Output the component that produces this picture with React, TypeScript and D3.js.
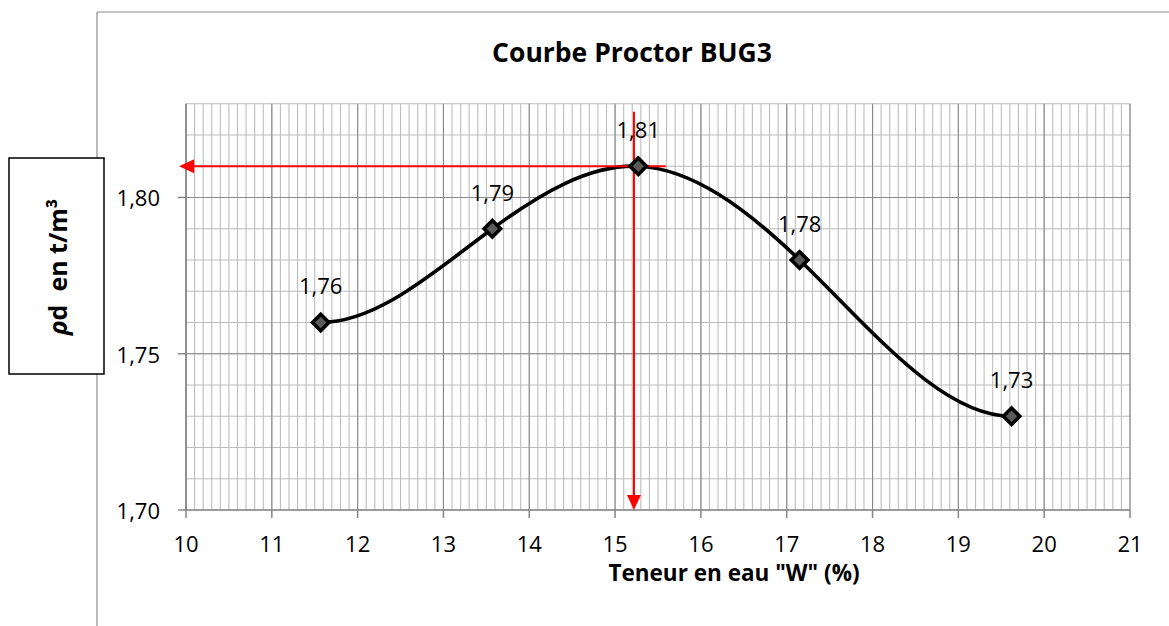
import { useMemo } from "react";
import * as d3 from "d3";

// Proctor test points
const waterContent = [11.57, 13.57, 15.27, 17.15, 19.62];
const dryDensity = [1.76, 1.79, 1.81, 1.78, 1.73];
const pointLabels = ["1,76", "1,79", "1,81", "1,78", "1,73"];

const xTicks = [10, 11, 12, 13, 14, 15, 16, 17, 18, 19, 20, 21];
const yTicks = [1.7, 1.75, 1.8];
const yTickLabels = ["1,70", "1,75", "1,80"];

// optimum read-off lines
const optimumW = [15.22];
const optimumRho = [1.81];
const hLineFrom = [15.59];
const vLineFrom = [1.8274];

const W = 1169;
const H = 626;
const FONT = "'Open Sans', 'Liberation Sans', sans-serif";

// cubic spline with flat ends, like the smoothed line in Excel
function curveClamped(context: any) {
  let pts: [number, number][] = [];
  return {
    areaStart() {},
    areaEnd() {},
    lineStart() {
      pts = [];
    },
    point(x: number, y: number) {
      pts.push([+x, +y]);
    },
    lineEnd() {
      const n = pts.length;
      if (n === 0) return;
      context.moveTo(pts[0][0], pts[0][1]);
      if (n === 1) return;
      const h: number[] = [];
      const s: number[] = [];
      for (let i = 0; i < n - 1; i++) {
        h.push(pts[i + 1][0] - pts[i][0]);
        s.push((pts[i + 1][1] - pts[i][1]) / h[i]);
      }
      const m = new Array(n).fill(0);
      const k = n - 2;
      if (k > 0) {
        const a: number[] = [], b: number[] = [], c: number[] = [], r: number[] = [];
        for (let i = 1; i <= k; i++) {
          a.push(h[i]);
          b.push(2 * (h[i - 1] + h[i]));
          c.push(h[i - 1]);
          r.push(3 * (h[i] * s[i - 1] + h[i - 1] * s[i]));
        }
        for (let i = 1; i < k; i++) {
          const w = a[i] / b[i - 1];
          b[i] -= w * c[i - 1];
          r[i] -= w * r[i - 1];
        }
        const sol = new Array(k).fill(0);
        sol[k - 1] = r[k - 1] / b[k - 1];
        for (let i = k - 2; i >= 0; i--) sol[i] = (r[i] - c[i] * sol[i + 1]) / b[i];
        for (let i = 0; i < k; i++) m[i + 1] = sol[i];
      }
      for (let i = 0; i < n - 1; i++) {
        const [x0, y0] = pts[i];
        const [x1, y1] = pts[i + 1];
        const d = h[i] / 3;
        context.bezierCurveTo(x0 + d, y0 + m[i] * d, x1 - d, y1 - m[i + 1] * d, x1, y1);
      }
    },
  };
}

export default function App() {
  const x = d3.scaleLinear().domain([10, 21]).range([186, 1130]);
  const y = d3.scaleLinear().domain([1.7, 1.83]).range([510, 103.7]);

  const data = waterContent.map((w, i) => ({ w, rho: dryDensity[i], label: pointLabels[i] }));

  const path = useMemo(
    () =>
      d3
        .line<{ w: number; rho: number }>()
        .x((d) => x(d.w))
        .y((d) => y(d.rho))
        .curve(curveClamped as any)(data) ?? "",
    []
  );

  const minorX = d3.range(0, 111).map((i) => 10 + i / 10);
  const minorY = d3.range(0, 14).map((i) => 1.7 + i / 100);
  const majorY = [1.75, 1.8];

  const diamond = d3.symbol(d3.symbolSquare, 135)() ?? "";

  const ox = x(optimumW[0]);
  const oy = y(optimumRho[0]);
  const hx0 = x(hLineFrom[0]);
  const hx1 = x(9.92);
  const vy0 = y(vLineFrom[0]);
  const vy1 = y(1.7);
  const head = 15;
  const half = 7;

  return (
    <svg
      width={W}
      height={H}
      style={{ position: "absolute", left: 0, top: 0, background: "#fff" }}
      fontFamily={FONT}
    >
      {/* chart frame */}
      <line x1={97} y1={12} x2={W} y2={12} stroke="#8c8c8c" strokeWidth={1.2} />
      <line x1={97} y1={12} x2={97} y2={H} stroke="#8c8c8c" strokeWidth={1.2} />

      {/* minor grid */}
      <g stroke="#bdbdbd" strokeWidth={1.1}>
        {minorX.map((v, i) => (
          <line key={"mx" + i} x1={x(v)} x2={x(v)} y1={y(1.83)} y2={y(1.7)} />
        ))}
        {minorY.map((v, i) => (
          <line key={"my" + i} x1={x(10)} x2={x(21)} y1={y(v)} y2={y(v)} />
        ))}
      </g>
      {/* major grid */}
      <g stroke="#8a8a8a" strokeWidth={1.1}>
        {xTicks.map((v) => (
          <line key={"Mx" + v} x1={x(v)} x2={x(v)} y1={y(1.83)} y2={y(1.7)} />
        ))}
        {majorY.map((v) => (
          <line key={"My" + v} x1={x(10)} x2={x(21)} y1={y(v)} y2={y(v)} />
        ))}
      </g>

      {/* axes */}
      <g stroke="#868686" strokeWidth={1.5}>
        <line x1={x(10)} x2={x(21)} y1={y(1.7)} y2={y(1.7)} />
        <line x1={x(10)} x2={x(10)} y1={y(1.83)} y2={y(1.7)} />
        {xTicks.map((v) => (
          <line key={"tx" + v} x1={x(v)} x2={x(v)} y1={y(1.7)} y2={y(1.7) + 8} />
        ))}
        {yTicks.map((v) => (
          <line key={"ty" + v} x1={x(10) - 8} x2={x(10)} y1={y(v)} y2={y(v)} />
        ))}
      </g>
      <g fontSize={22} fill="#000">
        {xTicks.map((v) => (
          <text key={"lx" + v} x={x(v)} y={552} textAnchor="middle">
            {v}
          </text>
        ))}
        {yTicks.map((v, i) => (
          <text key={"ly" + v} x={160} y={y(v)} textAnchor="end" dominantBaseline="central">
            {yTickLabels[i]}
          </text>
        ))}
      </g>

      {/* smoothed curve */}
      <path d={path} fill="none" stroke="#000" strokeWidth={3.6} />

      {/* red optimum lines */}
      <g stroke="#ff0000" strokeWidth={2} fill="#ff0000">
        <line x1={hx0} x2={hx1 + head - 2} y1={oy} y2={oy} />
        <path d={`M${hx1},${oy}L${hx1 + head},${oy - half}L${hx1 + head},${oy + half}Z`} stroke="none" />
        <line x1={ox} x2={ox} y1={vy0} y2={vy1 - head + 2} />
        <path d={`M${ox},${vy1}L${ox - half},${vy1 - head}L${ox + half},${vy1 - head}Z`} stroke="none" />
      </g>

      {/* markers and labels */}
      {data.map((d, i) => (
        <g key={"p" + i}>
          <path
            d={diamond}
            transform={`translate(${x(d.w)},${y(d.rho)}) rotate(45)`}
            fill="#5a5a5a"
            stroke="#000"
            strokeWidth={3.6}
          />
          <text x={x(d.w)} y={y(d.rho) - 28} textAnchor="middle" fontSize={22}>
            {d.label}
          </text>
        </g>
      ))}

      {/* titles */}
      <text x={632} y={62} textAnchor="middle" fontSize={26.5} fontWeight="bold">
        Courbe Proctor BUG3
      </text>
      <text x={734} y={581} textAnchor="middle" fontSize={22.5} fontWeight="bold">
        Teneur en eau "W" (%)
      </text>

      {/* y-axis label box */}
      <rect x={9} y={158} width={95} height={216} fill="#fff" stroke="#000" strokeWidth={1.5} />
      <text
        transform="translate(67,267) rotate(-90)"
        textAnchor="middle"
        fontSize={25}
        fontWeight="bold"
        style={{ whiteSpace: "pre" }}
      >
        <tspan fontStyle="italic">ρ</tspan>
        <tspan>d  en t/m³</tspan>
      </text>
    </svg>
  );
}
